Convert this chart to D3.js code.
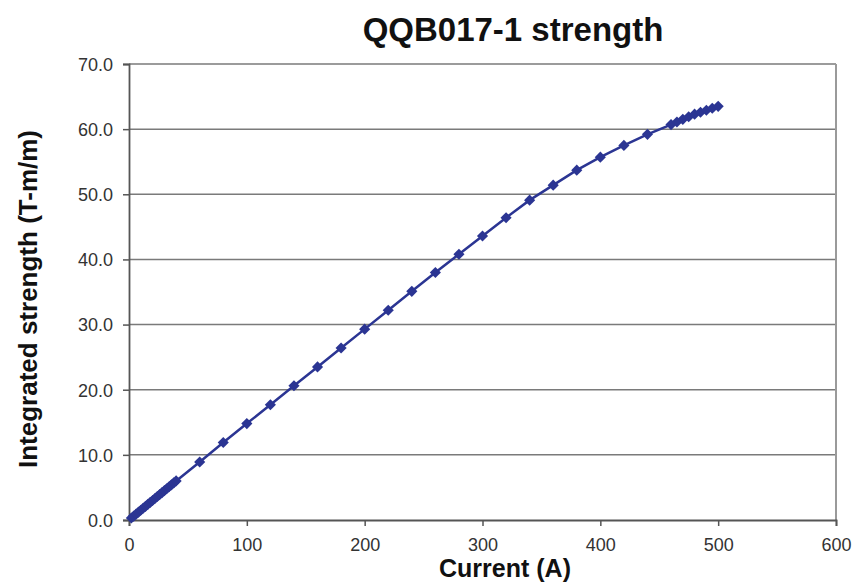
<!DOCTYPE html>
<html>
<head>
<meta charset="utf-8">
<script src="https://cdn.jsdelivr.net/npm/d3@7/dist/d3.min.js"></script>
<style>
  html, body { margin: 0; padding: 0; background: #fff; }
  svg { display: block; font-family: "Liberation Sans", Arial, Helvetica, sans-serif; }
</style>
</head>
<body>
<svg id="chart" width="854" height="582"></svg>
<script>
// Magnet excitation: current (A) vs integrated strength (T-m/m)
const current = [2, 4, 6, 8, 10, 12, 14, 16, 18, 20, 22, 24, 26, 28, 30, 32, 34, 36, 38, 40,
  60, 80, 100, 120, 140, 160, 180, 200, 220, 240, 260, 280, 300, 320, 340, 360, 380, 400, 420, 440,
  460, 465, 470, 475, 480, 485, 490, 495, 500];
const strength = [0.3, 0.6, 0.9, 1.2, 1.5, 1.8, 2.1, 2.4, 2.7, 3.0, 3.3, 3.6, 3.9, 4.2, 4.5, 4.8, 5.1, 5.4, 5.7, 6.0,
  8.9, 11.9, 14.8, 17.7, 20.6, 23.5, 26.4, 29.3, 32.2, 35.1, 38.0, 40.8, 43.6, 46.4, 49.1, 51.4, 53.7, 55.7, 57.5, 59.2,
  60.7, 61.1, 61.5, 61.9, 62.3, 62.6, 62.9, 63.2, 63.5];
const xTicks = [0, 100, 200, 300, 400, 500, 600];
const yTicks = [0, 10, 20, 30, 40, 50, 60, 70];

const chartTitle = "QQB017-1 strength";
const xTitle = "Current (A)";
const yTitle = "Integrated strength (T-m/m)";

const margin = { top: 64, right: 18, bottom: 62, left: 129 };
const width = 854, height = 582;
const svg = d3.select("#chart");

const x = d3.scaleLinear().domain([0, 600]).range([margin.left, width - margin.right]);
const y = d3.scaleLinear().domain([0, 70]).range([height - margin.bottom, margin.top]);

// Horizontal gridlines
svg.append("g")
  .selectAll("line")
  .data(yTicks.filter(d => d > 0))
  .join("line")
  .attr("x1", x(0)).attr("x2", x(600))
  .attr("y1", d => y(d)).attr("y2", d => y(d))
  .attr("stroke", "#7a7a7a")
  .attr("stroke-width", 1.5);

// Right frame edge
svg.append("line")
  .attr("x1", x(600)).attr("x2", x(600))
  .attr("y1", y(70)).attr("y2", y(0))
  .attr("stroke", "#9a9a9a").attr("stroke-width", 2);

// Axes
const xAxis = svg.append("g")
  .attr("transform", `translate(0,${y(0)})`)
  .call(d3.axisBottom(x).tickValues(xTicks).tickFormat(d3.format("d")).tickSize(6).tickPadding(12));
const yAxis = svg.append("g")
  .attr("transform", `translate(${x(0)},0)`)
  .call(d3.axisLeft(y).tickValues(yTicks).tickFormat(d3.format(".1f")).tickSize(6).tickPadding(10));

[xAxis, yAxis].forEach(g => {
  g.select(".domain").attr("stroke", "#555").attr("stroke-width", 1.8);
  g.selectAll(".tick line").attr("stroke", "#555").attr("stroke-width", 1.5);
  g.selectAll(".tick text")
    .attr("fill", "#333")
    .style("font-size", "18px")
    .style("font-family", "\"Liberation Sans\", Arial, sans-serif");
});
yAxis.selectAll(".tick text").attr("dy", "0.35em");

// Series line
const line = d3.line().x((d, i) => x(current[i])).y((d, i) => y(strength[i]));
svg.append("path")
  .datum(strength)
  .attr("d", line)
  .attr("fill", "none")
  .attr("stroke", "#2b3593")
  .attr("stroke-width", 2.5);

// Diamond markers (square turned 45 degrees)
const marker = d3.symbol().type(d3.symbolSquare).size(62);
svg.append("g")
  .selectAll("path")
  .data(strength)
  .join("path")
  .attr("d", marker)
  .attr("transform", (d, i) => `translate(${x(current[i])},${y(d)}) rotate(45)`)
  .attr("fill", "#2b3593");

// Titles
svg.append("text")
  .attr("x", 513).attr("y", 41)
  .attr("text-anchor", "middle")
  .style("font-size", "33px").style("font-weight", "bold")
  .attr("fill", "#111")
  .text(chartTitle);

svg.append("text")
  .attr("x", 505).attr("y", 577)
  .attr("text-anchor", "middle")
  .style("font-size", "25px").style("font-weight", "bold")
  .attr("fill", "#111")
  .text(xTitle);

svg.append("text")
  .attr("transform", `translate(37,${(y(0) + y(70)) / 2 + 7}) rotate(-90)`)
  .attr("text-anchor", "middle")
  .style("font-size", "26px").style("font-weight", "bold")
  .attr("fill", "#111")
  .text(yTitle);
</script>
</body>
</html>
